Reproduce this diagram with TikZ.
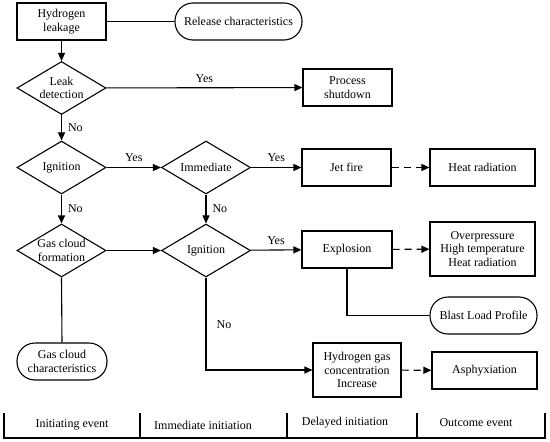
\documentclass[tikz,border=0pt]{standalone}
\usepackage{fontspec}
\setmainfont{Liberation Serif}
\usetikzlibrary{shapes.geometric,arrows.meta,calc}
\begin{document}
\begin{tikzpicture}[x=1pt,y=-1pt,
  every node/.style={font=\fontsize{12pt}{13.5pt}\selectfont},
  box/.style={draw,line width=1.1pt,rectangle,inner sep=0pt,align=center,minimum height=37pt},
  rbox/.style={draw,line width=1.1pt,rectangle,rounded corners=18pt,inner sep=0pt,align=center,minimum height=37pt},
  dia/.style={draw,line width=1.1pt,diamond,inner sep=0pt,minimum width=89pt,minimum height=53pt},
  lbl/.style={align=center,inner sep=0pt},
  conn/.style={line width=1.1pt},
  arr/.style={conn,-{Triangle[length=8pt,width=7pt]}},
  darr/.style={arr,dash pattern=on 7pt off 5pt}
]
\useasboundingbox (0,0) rectangle (550,442);
% nodes
\node[box,minimum width=89pt] (hl) at (61.5,21.5) {Hydrogen\\leakage};
\node[rbox,minimum width=127pt] (rc) at (238.5,21.5) {Release characteristics};
\node[dia] (ld) at (61.5,88) {};
\node[lbl] (ldt) at (ld) {Leak\\detection};
\node[box,minimum width=89pt] (ps) at (347.5,87.5) {Process\\shutdown};
\node[dia] (ig1) at (61.5,167.5) {};
\node[lbl] (ig1t) at (ig1) {Ignition};
\node[dia] (im) at (206,167.5) {};
\node[lbl] (imt) at (im) {Immediate};
\node[box,minimum width=89pt] (jf) at (346.5,167.5) {Jet fire};
\node[box,minimum width=105pt] (hr) at (482.5,167.5) {Heat radiation};
\node[dia] (gc) at (61.5,250.5) {};
\node[lbl] (gct) at (gc) {Gas cloud\\formation};
\node[dia] (ig2) at (206,250.5) {};
\node[lbl] (ig2t) at (ig2) {Ignition};
\node[box,minimum width=90pt] (ex) at (347,249.5) {Explosion};
\node[box,minimum width=105pt,minimum height=54pt] (op) at (482.5,249) {Overpressure\\High temperature\\Heat radiation};
\node[rbox,minimum width=107pt] (blp) at (483.5,315.5) {Blast Load Profile};
\node[rbox,minimum width=90pt] (gcc) at (62,361.5) {Gas cloud\\characteristics};
\node[box,minimum width=88pt,minimum height=54pt] (h2) at (357,370) {Hydrogen gas\\concentration\\Increase};
\node[box,minimum width=105pt] (as) at (484.5,370.5) {Asphyxiation};
% connectors
\draw[conn] (hl) -- (rc);
\draw[arr] (hl) -- (ld);
\draw[arr] (ld) -- node[lbl,above=5pt] (y1) {Yes} (ps);
\draw[arr] (ld) -- node[lbl,right=6pt] (n1) {No} (ig1);
\draw[arr] (ig1) -- node[lbl,above=5pt] (y2) {Yes} (im);
\draw[arr] (im) -- node[lbl,above=5pt] (y3) {Yes} (jf);
\draw[darr] (jf) -- (hr);
\draw[arr] (ig1) -- node[lbl,right=6pt] (n2) {No} (gc);
\draw[arr] (im) -- node[lbl,right=6pt] (n3) {No} (ig2);
\draw[arr] (gc) -- (ig2);
\draw[arr] (ig2) -- node[lbl,above=5pt] (y4) {Yes} (ex);
\draw[darr] (ex) -- (op);
\draw[conn] (ex.south) |- (blp.west);
\draw[conn] (gc.south) -- (gcc.north);
\draw[arr] (ig2.south) |- (h2.west);
\node[lbl] (n4) at (224,325) {No};
\draw[darr] (h2) -- (as);
% bottom bar
\coordinate (b0) at (4,413);
\coordinate (b1) at (140,413);
\coordinate (b2) at (287,413);
\coordinate (b3) at (417,413);
\coordinate (b4) at (545,413);
\draw[conn] (b0) -- ++(0,25) -- ($(b4)+(0,25)$) -- (b4);
\draw[conn] (b1) -- ++(0,25);
\draw[conn] (b2) -- ++(0,25);
\draw[conn] (b3) -- ++(0,25);
\node[lbl] (t1) at (72,425) {Initiating event};
\node[lbl] (t2) at (203,425) {Immediate initiation};
\node[lbl] (t3) at (345,423) {Delayed initiation};
\node[lbl] (t4) at (476,423) {Outcome event};
\end{tikzpicture}
\end{document}
